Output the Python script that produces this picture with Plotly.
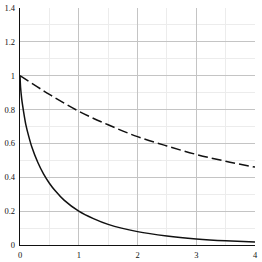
import plotly.graph_objects as go

# Solid curve
solid_x = [0, 0.01, 0.03, 0.06, 0.1, 0.15, 0.2, 0.3, 0.4, 0.5, 0.6, 0.75, 1.0, 1.25, 1.5, 2.0, 2.5, 3.0, 3.5, 4.0]
solid_y = [1.0, 0.93, 0.86, 0.79, 0.71, 0.64, 0.58, 0.49, 0.42, 0.365, 0.32, 0.265, 0.20, 0.156, 0.122, 0.079, 0.053, 0.036, 0.025, 0.018]

# Dashed curve
dash_x = [0, 0.5, 1.0, 1.5, 2.0, 2.5, 3.0, 3.5, 4.0]
dash_y = [1.0, 0.89, 0.79, 0.71, 0.64, 0.585, 0.535, 0.495, 0.46]

x_ticks = [0, 1, 2, 3, 4]
x_labels = ["0", "1", "2", "3", "4"]
y_ticks = [0, 0.2, 0.4, 0.6, 0.8, 1, 1.2, 1.4]
y_labels = ["0", "0.2", "0.4", "0.6", "0.8", "1", "1.2", "1.4"]

tick_font = dict(family="Liberation Serif", size=8.5, color="#111111")

fig = go.Figure()
fig.add_trace(go.Scatter(x=solid_x, y=solid_y, mode="lines", hoverinfo="skip",
                         line=dict(color="#111111", width=1.5, shape="spline", smoothing=0.6)))
fig.add_trace(go.Scatter(x=dash_x, y=dash_y, mode="lines", hoverinfo="skip",
                         line=dict(color="#111111", width=1.5, dash="10px,4px", shape="spline")))

fig.update_layout(
    width=262, height=262,
    margin=dict(l=20, r=7, t=8, b=17, autoexpand=False),
    paper_bgcolor="white", plot_bgcolor="white",
    showlegend=False,
    font=tick_font,
)
fig.update_xaxes(range=[0, 4], tickvals=x_ticks, ticktext=x_labels, tickfont=tick_font,
                 showgrid=True, gridcolor="#c4c4c4", gridwidth=1,
                 minor=dict(dtick=0.5, showgrid=True, gridcolor="#ececec", gridwidth=1),
                 showline=True, linecolor="#111111", linewidth=1.2, zeroline=False,
                 ticks="", ticklabelstandoff=2, automargin=False)
fig.update_yaxes(range=[0, 1.4], tickvals=y_ticks, ticktext=y_labels, tickfont=tick_font,
                 showgrid=True, gridcolor="#c4c4c4", gridwidth=1,
                 minor=dict(dtick=0.1, showgrid=True, gridcolor="#ececec", gridwidth=1),
                 showline=True, linecolor="#111111", linewidth=1.2, zeroline=False,
                 ticks="", ticklabelstandoff=2, automargin=False)

fig.write_html("out.html", config={"displayModeBar": False, "staticPlot": True},
               post_script="document.body.style.margin='0';document.body.style.overflow='hidden';")
